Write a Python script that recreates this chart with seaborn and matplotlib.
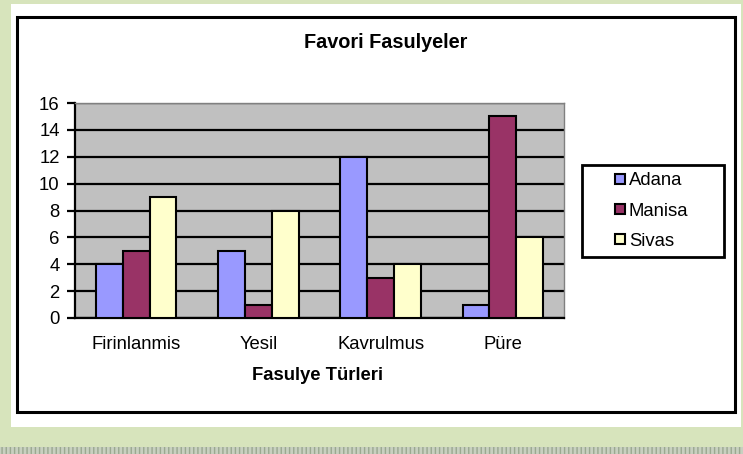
import numpy as np
import pandas as pd
import matplotlib
matplotlib.use("Agg")
import matplotlib.pyplot as plt
import seaborn as sns
from matplotlib.patches import Rectangle
from matplotlib.lines import Line2D

categories = ["Firinlanmis", "Yesil", "Kavrulmus", "Püre"]
adana = [4, 5, 12, 1]
manisa = [5, 1, 3, 15]
sivas = [9, 8, 4, 6]
series = ["Adana", "Manisa", "Sivas"]
colors = ["#9999FF", "#993366", "#FFFFCC"]

df = pd.DataFrame({"tur": categories, "Adana": adana, "Manisa": manisa, "Sivas": sivas})
df = df.melt(id_vars="tur", var_name="sehir", value_name="deger")

sns.set_style("white")
plt.rcParams["font.family"] = ["Liberation Sans", "DejaVu Sans"]
plt.rcParams["text.color"] = "black"
plt.rcParams["xtick.color"] = "black"
plt.rcParams["ytick.color"] = "black"

W, H = 743, 454
fig = plt.figure(figsize=(W / 100, H / 100), dpi=100)
fig.patch.set_facecolor("#D7E4BC")

def px(x0, y0, x1, y1):
    return (x0 / W, 1 - y1 / H), (x1 - x0) / W, (y1 - y0) / H

# white panel, chart border, bottom strip and legend box
xy, w, h = px(11, 4, 741, 427)
fig.patches.append(Rectangle(xy, w, h, transform=fig.transFigure, facecolor="white",
                             edgecolor="none", zorder=-3))
xy, w, h = px(17, 17, 735, 412)
fig.patches.append(Rectangle(xy, w, h, transform=fig.transFigure, facecolor="none",
                             edgecolor="black", lw=2.2, zorder=-2))
xy, w, h = px(0, 447, 743, 454)
fig.patches.append(Rectangle(xy, w, h, transform=fig.transFigure, facecolor="#C8D0C0",
                             edgecolor="#9AA890", hatch="||||", lw=0, zorder=-3))
xy, w, h = px(582, 165, 724, 257)
fig.patches.append(Rectangle(xy, w, h, transform=fig.transFigure, facecolor="white",
                             edgecolor="black", lw=2, zorder=-2))

ax = fig.add_axes([75 / W, 1 - 318 / H, 489 / W, 215 / H])
ax.set_facecolor("#C0C0C0")

sns.barplot(data=df, x="tur", y="deger", hue="sehir", palette=colors, saturation=1,
            width=0.66, edgecolor="black", linewidth=1.5, legend=False, ax=ax,
            zorder=3)

ax.set_ylim(0, 16)
ax.set_xlim(-0.5, 3.5)
ax.set_yticks(range(0, 17, 2))
ax.grid(axis="y", color="black", lw=1.6, zorder=1)
ax.set_axisbelow(True)
for s in ["top", "right"]:
    ax.spines[s].set_color("#808080")
    ax.spines[s].set_linewidth(1)
for s in ["left", "bottom"]:
    ax.spines[s].set_color("black")
    ax.spines[s].set_linewidth(1.6)

ax.set_xticks([0, 1, 2, 3])
ax.set_xticklabels(categories, fontsize=13.3)
ax.tick_params(axis="x", length=0, pad=13)
ax.set_xticks([-0.5, 0.5, 1.5, 2.5, 3.5], minor=True)
ax.tick_params(axis="x", which="minor", length=6, width=1.6, direction="out", color="black")
ax.tick_params(axis="y", labelsize=13.3, length=6, width=1.6, direction="out",
               color="black", pad=5, left=True)
ax.set_xlabel("")
ax.set_ylabel("")

fig.text(386 / W, 1 - 42 / H, "Favori Fasulyeler", ha="center", va="center",
         fontsize=14.3, fontweight="bold")
fig.text(318 / W, 1 - 376 / H, "Fasulye Türleri", ha="center", va="center",
         fontsize=13.3, fontweight="bold")

handles = [Line2D([], [], marker="s", ls="none", markersize=7, markerfacecolor=c,
                  markeredgecolor="black", markeredgewidth=1.5) for c in colors]
leg = fig.legend(handles, series, loc="center left", bbox_to_anchor=(614 / W, 1 - 211 / H),
                 fontsize=13.3, frameon=False, handlelength=0.6,
                 handletextpad=0.2, labelspacing=0.72, borderpad=0,
                 borderaxespad=0)

fig.savefig("out.png", dpi=100, facecolor=fig.get_facecolor())
